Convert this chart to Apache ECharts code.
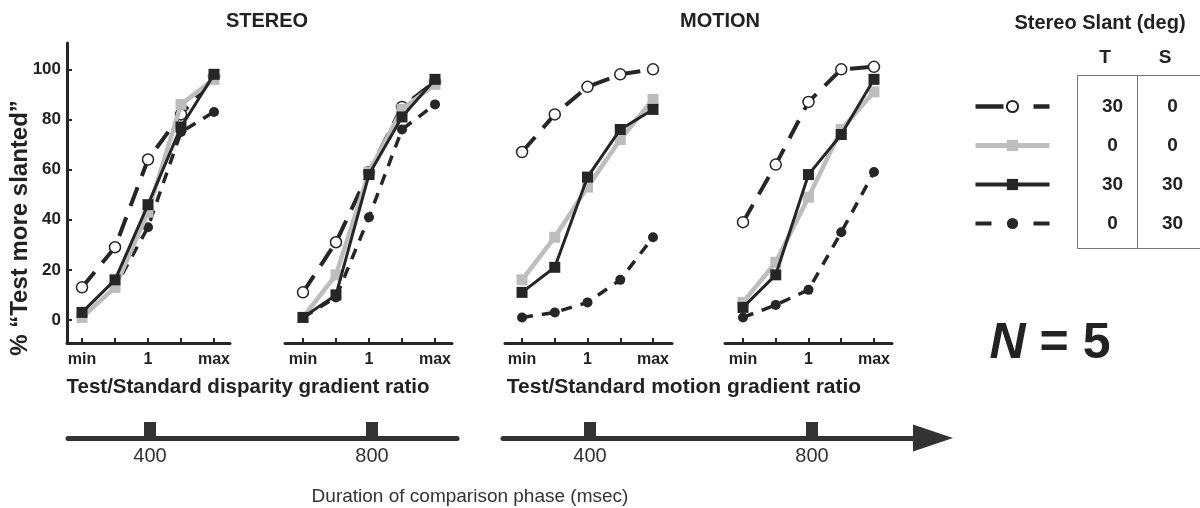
<!DOCTYPE html>
<html><head><meta charset="utf-8">
<script src="https://cdn.jsdelivr.net/npm/echarts@6/dist/echarts.min.js"></script>
<style>html,body{margin:0;padding:0;background:#fff}#c{width:1200px;height:508px}</style>
</head><body><div id="c"></div>
<script>
// ---- data ----
const xLevels = [0, 1, 2, 3, 4];
const xTickLabels = ['min', '', '1', '', 'max'];
const xLabelLevels = [0, 2, 4];
const yTicks = [0, 20, 40, 60, 80, 100];
const seriesNames = ['T30 S0', 'T0 S0', 'T30 S30', 'T0 S30'];
const legendT = [30, 0, 30, 0];
const legendS = [0, 0, 30, 30];
const durationTicks = [400, 800];

// Stereo, 400 ms
const p1Open  = [13, 29, 64, 82, 97];
const p1Gray  = [1, 13, 43, 86, 96];
const p1Black = [3, 16, 46, 77, 98];
const p1Dot   = [1, 13, 37, 75, 83];
// Stereo, 800 ms
const p2Open  = [11, 31, 59, 85, 95];
const p2Gray  = [1, 18, 59, 84, 94];
const p2Black = [1, 10, 58, 81, 96];
const p2Dot   = [1, 9, 41, 76, 86];
// Motion, 400 ms
const p3Open  = [67, 82, 93, 98, 100];
const p3Gray  = [16, 33, 53, 72, 88];
const p3Black = [11, 21, 57, 76, 84];
const p3Dot   = [1, 3, 7, 16, 33];
// Motion, 800 ms
const p4Open  = [39, 62, 87, 100, 101];
const p4Gray  = [7, 23, 49, 76, 91];
const p4Black = [5, 18, 58, 74, 96];
const p4Dot   = [1, 6, 12, 35, 59];

const panels = [
  [p1Open, p1Gray, p1Black, p1Dot],
  [p2Open, p2Gray, p2Black, p2Dot],
  [p3Open, p3Gray, p3Black, p3Dot],
  [p4Open, p4Gray, p4Black, p4Dot]
];

// ---- styles / layout ----
const DARK = '#262626';
const GRAY = '#bdbdbd';
const FONT = "'Liberation Sans', Arial, Helvetica, sans-serif";
const panelGrids = [
  {left: 67, width: 163, xmin: -0.455, xmax: 4.485},
  {left: 285, width: 167, xmin: -0.545, xmax: 4.515},
  {left: 505, width: 167, xmin: -0.52, xmax: 4.58},
  {left: 725, width: 167, xmin: -0.55, xmax: 4.55}
];
const seriesStyle = [
  {symbol: 'circle', symbolSize: 11, itemStyle: {color: '#fff', borderColor: DARK, borderWidth: 1.5},
   lineStyle: {color: DARK, width: 4, type: [20, 12]}, z: 3},
  {symbol: 'rect', symbolSize: 11, itemStyle: {color: GRAY, borderWidth: 0},
   lineStyle: {color: GRAY, width: 4.5, type: 'solid'}, z: 4},
  {symbol: 'rect', symbolSize: 11, itemStyle: {color: DARK, borderWidth: 0},
   lineStyle: {color: DARK, width: 3, type: 'solid'}, z: 5},
  {symbol: 'circle', symbolSize: 10, itemStyle: {color: DARK, borderWidth: 0},
   lineStyle: {color: DARK, width: 3.5, type: [11, 9]}, z: 2}
];
const legendLine = [
  {color: DARK, width: 4.5, type: [28, 30]},
  {color: GRAY, width: 5, type: 'solid'},
  {color: DARK, width: 4, type: 'solid'},
  {color: DARK, width: 4, type: [16, 42]}
];

const grid = [], xAxis = [], yAxis = [], series = [];
panelGrids.forEach((g, i) => {
  grid.push({left: g.left, width: g.width, top: 43, height: 300, containLabel: false});
  xAxis.push({
    type: 'value', gridIndex: i, min: g.xmin, max: g.xmax,
    axisLine: {show: true, onZero: false, lineStyle: {color: DARK, width: 3}},
    axisTick: {show: true, inside: true, length: 5, customValues: xLevels, lineStyle: {color: DARK, width: 2}},
    axisLabel: {show: true, customValues: xLabelLevels, formatter: v => xTickLabels[Math.round(v)],
      fontSize: 16, fontWeight: 'bold', color: '#222', margin: 9, fontFamily: FONT},
    splitLine: {show: false}
  });
  yAxis.push({
    type: 'value', gridIndex: i, min: -9.2, max: 110.5, show: i === 0,
    axisLine: {show: true, onZero: false, lineStyle: {color: DARK, width: 3}},
    axisTick: {show: true, inside: true, length: 5, customValues: yTicks, lineStyle: {color: DARK, width: 2}},
    axisLabel: {show: true, customValues: yTicks, fontSize: 17, fontWeight: 'bold', color: '#222', margin: 6, fontFamily: FONT},
    splitLine: {show: false}
  });
  panels[i].forEach((vals, k) => {
    const st = seriesStyle[k];
    series.push({
      type: 'line', name: seriesNames[k], xAxisIndex: i, yAxisIndex: i,
      data: xLevels.map((x, j) => [x, vals[j]]),
      symbol: st.symbol, symbolSize: st.symbolSize, showSymbol: true,
      itemStyle: st.itemStyle, lineStyle: st.lineStyle, z: st.z,
      silent: true, animation: false
    });
  });
});

// duration timeline (two axes)
const timeline = [
  {left: 68, width: 389, min: 252.3, max: 953.2, arrow: false},
  {left: 503, width: 430, min: 243.2, max: 1018.0, arrow: true}
];
timeline.forEach((t, j) => {
  const gi = grid.length;
  grid.push({left: t.left, width: t.width, top: 400, height: 38, containLabel: false});
  xAxis.push({
    type: 'value', gridIndex: gi, min: t.min, max: t.max,
    axisLine: {show: true, onZero: false, symbol: t.arrow ? ['none', 'triangle'] : ['none', 'none'], symbolSize: [27, 40],
      lineStyle: {color: '#333', width: 5}},
    axisTick: {show: true, inside: true, length: 16, customValues: durationTicks, lineStyle: {color: '#333', width: 12}},
    axisLabel: {show: true, customValues: durationTicks, fontSize: 20, color: '#333', margin: 8, fontFamily: FONT},
    splitLine: {show: false}
  });
  yAxis.push({type: 'value', gridIndex: gi, min: 0, max: 1, show: false});
});

const txt = (x, y, text, size, extra) => Object.assign({
  type: 'text', x: x, y: y, silent: true,
  style: Object.assign({text: text, fontSize: size, fontWeight: 'bold', fontFamily: FONT, fill: '#222',
    align: 'center', verticalAlign: 'middle'}, (extra && extra.style) || {})
}, extra && extra.rotation !== undefined ? {rotation: extra.rotation} : {});

const option = {
  animation: false,
  backgroundColor: '#fff',
  grid: grid, xAxis: xAxis, yAxis: yAxis, series: series,
  legend: {
    orient: 'vertical', left: 968, top: 92, itemWidth: 74, itemHeight: 14, itemGap: 20,
    selectedMode: false,
    data: seriesNames.map((n, i) => ({name: n, lineStyle: legendLine[i]})),
    formatter: name => {
      const i = seriesNames.indexOf(name);
      return '{p| }{t|' + legendT[i] + '}{s|' + legendS[i] + '}';
    },
    textStyle: {
      rich: {
        p: {width: 28, lineHeight: 14},
        t: {width: 60, align: 'center', fontSize: 19, fontWeight: 'bold', color: '#222', lineHeight: 14, fontFamily: FONT},
        s: {width: 60, align: 'center', fontSize: 19, fontWeight: 'bold', color: '#222', lineHeight: 14, fontFamily: FONT}
      }
    }
  },
  graphic: [
    txt(267, 21, 'STEREO', 20),
    txt(720, 21, 'MOTION', 20),
    txt(20, 228, '% \u201CTest more slanted\u201D', 24, {rotation: Math.PI / 2}),
    txt(248, 387, 'Test/Standard disparity gradient ratio', 20.5),
    txt(684, 387, 'Test/Standard motion gradient ratio', 21),
    txt(1100, 23, 'Stereo Slant (deg)', 20),
    txt(1105, 58, 'T', 19),
    txt(1165, 58, 'S', 19),
    txt(470, 497, 'Duration of comparison phase (msec)', 19, {style: {fontWeight: 'normal', fill: '#333'}}),
    {type: 'text', x: 1050, y: 344, silent: true,
     style: {text: '{n|N}{e| = 5}', align: 'center', verticalAlign: 'middle',
       rich: {
         n: {fontSize: 50, fontWeight: 'bold', fontStyle: 'italic', fontFamily: FONT, fill: '#222'},
         e: {fontSize: 50, fontWeight: 'bold', fontFamily: FONT, fill: '#222'}
       }}},
    {type: 'rect', silent: true, shape: {x: 1077.5, y: 75.5, width: 130, height: 173},
     style: {fill: 'none', stroke: '#777', lineWidth: 1}},
    {type: 'line', silent: true, shape: {x1: 1137.5, y1: 75.5, x2: 1137.5, y2: 248.5},
     style: {stroke: '#777', lineWidth: 1}}
  ]
};

const chart = echarts.init(document.getElementById('c'), null, {renderer: 'canvas'});
chart.setOption(option);
</script>
</body></html>
